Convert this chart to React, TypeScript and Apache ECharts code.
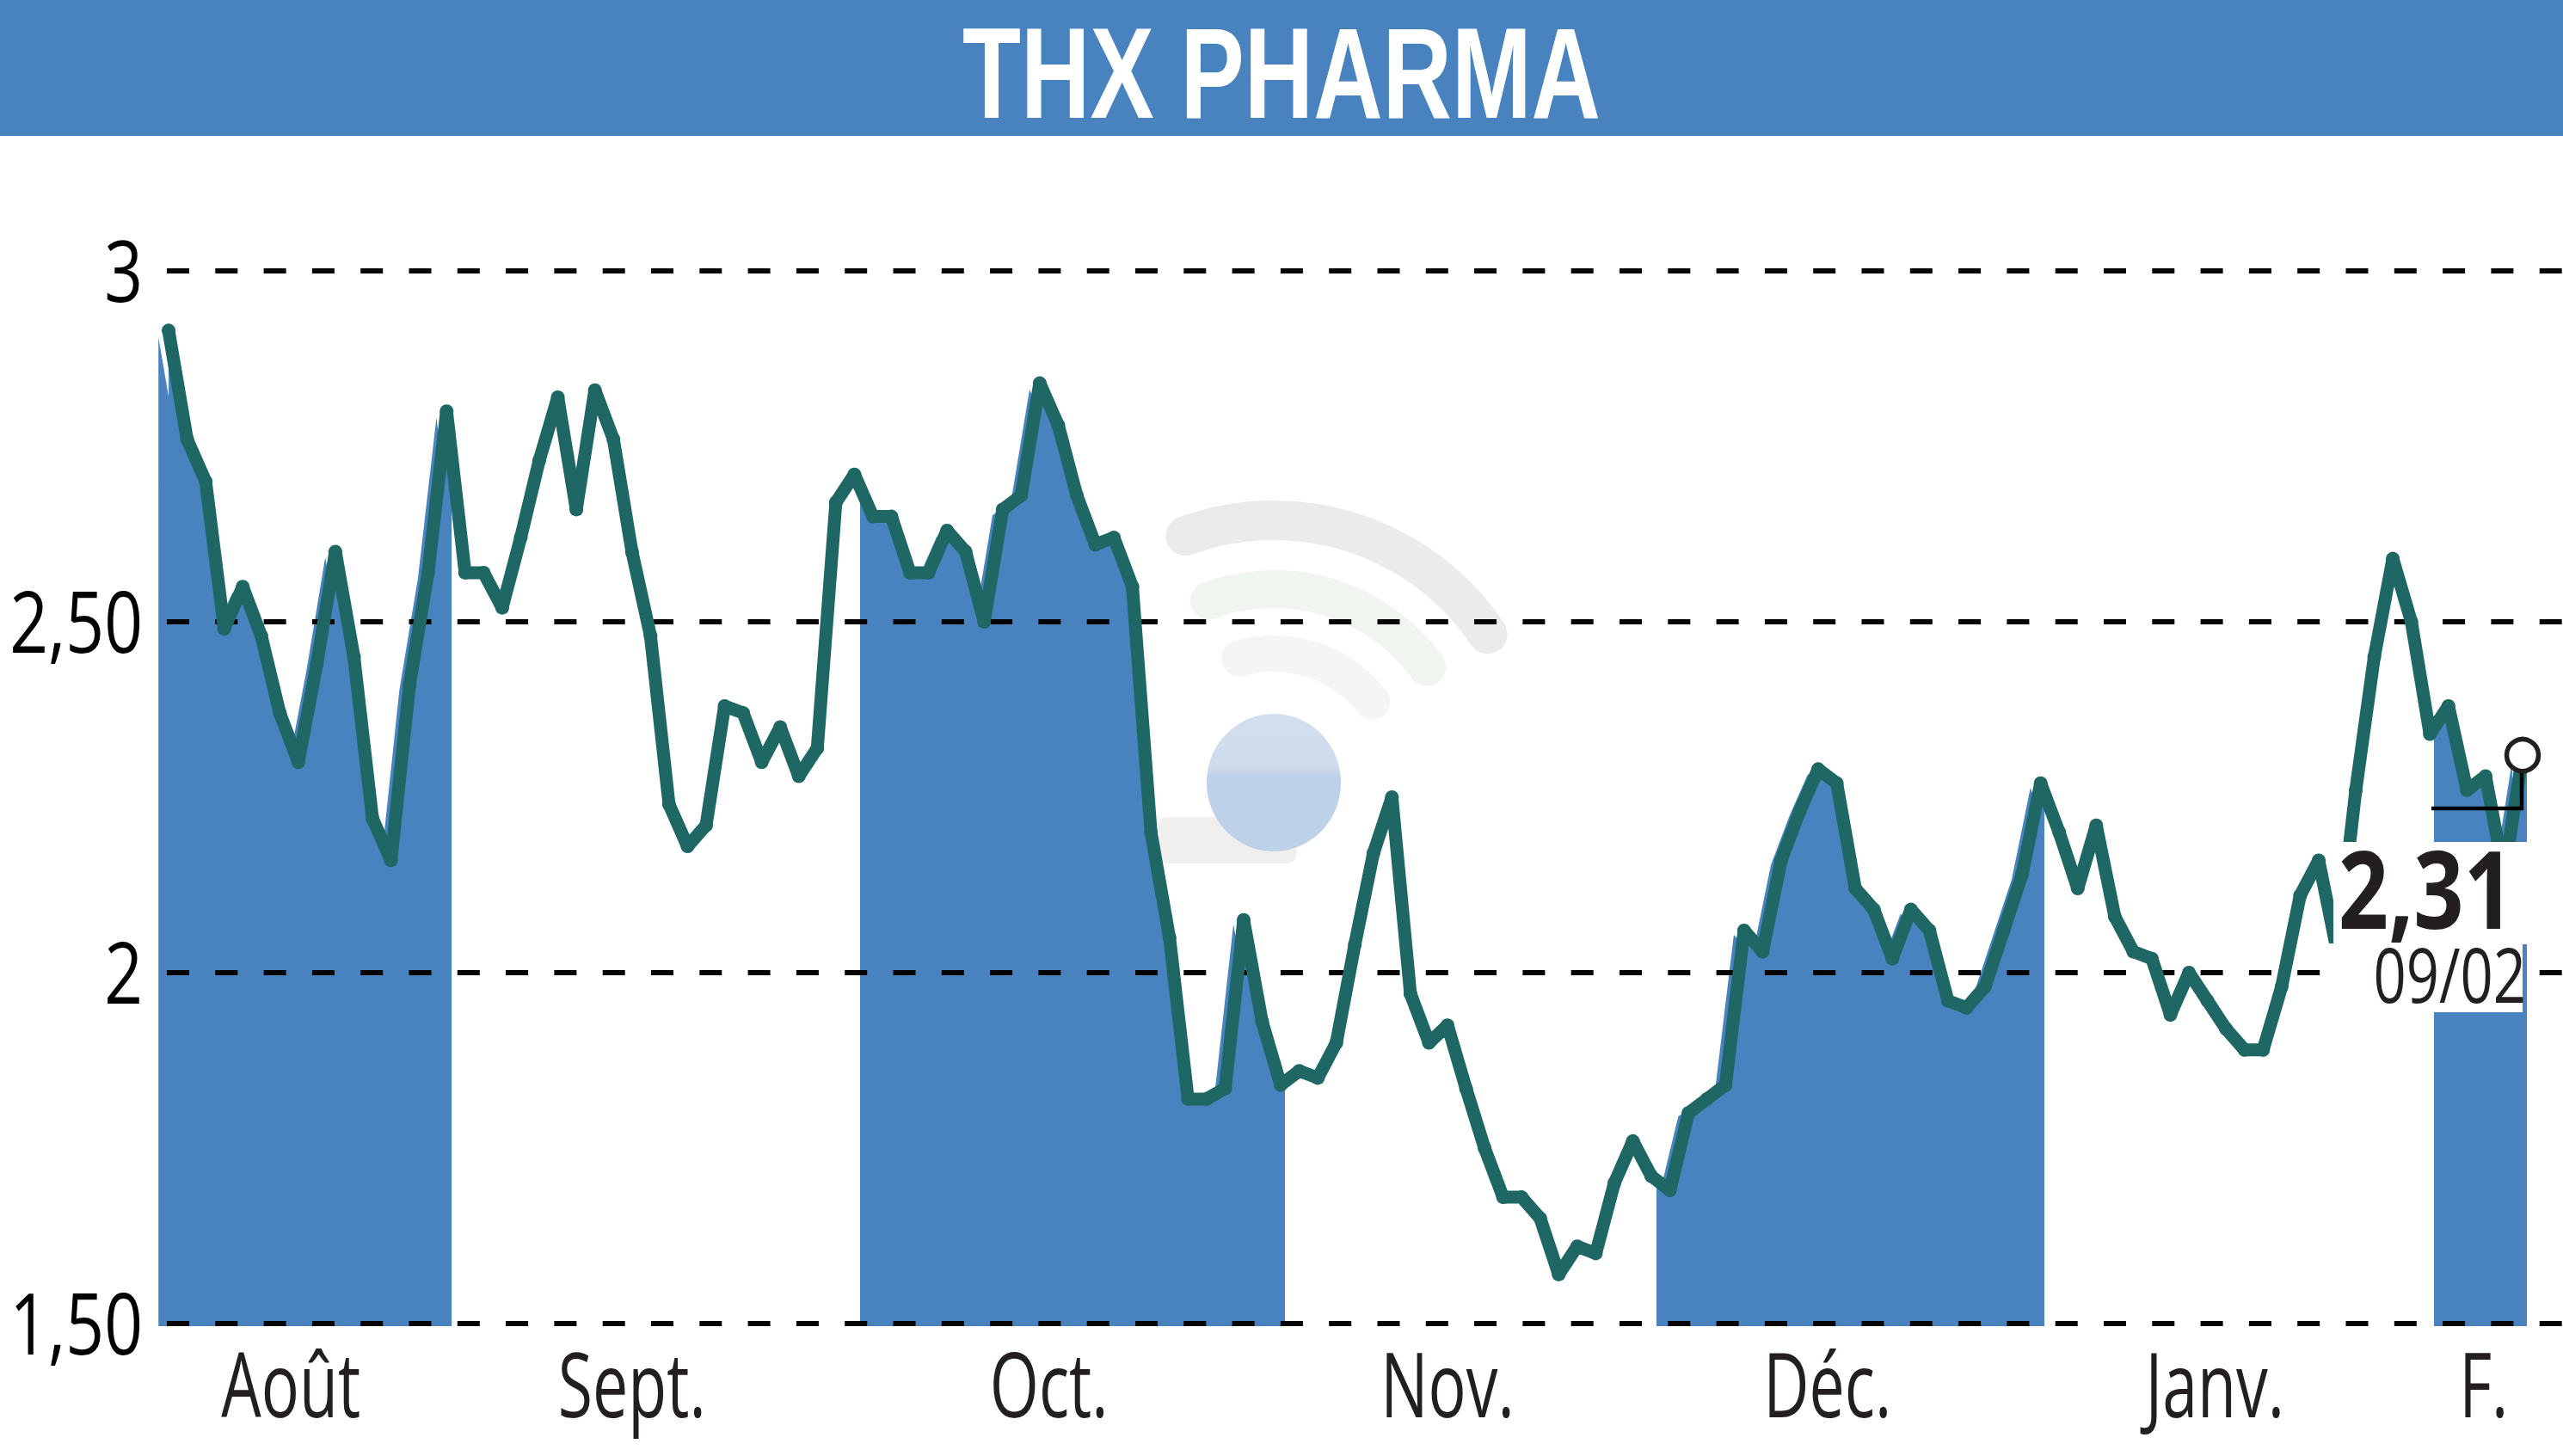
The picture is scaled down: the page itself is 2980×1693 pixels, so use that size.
import React, { useEffect, useRef } from 'react';
import * as echarts from 'echarts';

const closes = [
  2.915, 2.76, 2.7, 2.49, 2.55, 2.48, 2.37, 2.3, 2.44, 2.6,
  2.45, 2.22, 2.16, 2.41, 2.57, 2.8, 2.57, 2.57, 2.52, 2.62,
  2.73, 2.82, 2.66, 2.83, 2.76, 2.6, 2.48, 2.24, 2.18, 2.21,
  2.38, 2.37, 2.3, 2.35, 2.28, 2.32, 2.67, 2.71, 2.65, 2.65,
  2.57, 2.57, 2.63, 2.6, 2.5, 2.66, 2.68, 2.84, 2.78, 2.68,
  2.61, 2.62, 2.55, 2.2, 2.05, 1.82, 1.82, 1.835, 2.075, 1.93,
  1.84, 1.86, 1.85, 1.9, 2.04, 2.17, 2.25, 1.97, 1.9, 1.925,
  1.835, 1.75, 1.68, 1.68, 1.65, 1.57, 1.61, 1.6, 1.7, 1.76,
  1.71, 1.69, 1.8, 1.82, 1.84, 2.06, 2.03, 2.16, 2.23, 2.29,
  2.27, 2.12, 2.09, 2.02, 2.09, 2.06, 1.96, 1.95, 1.98, 2.06,
  2.14, 2.27, 2.2, 2.12, 2.21, 2.08, 2.03, 2.02, 1.94, 2.0,
  1.96, 1.92, 1.89, 1.89, 1.98, 2.11, 2.16, 2.03, 2.26, 2.45,
  2.59, 2.5, 2.34, 2.38, 2.26, 2.28, 2.14, 2.31,
];

// shaded months, as day positions on the x axis
const shadedMonths = [
  [-0.56, 15.29],
  [37.3, 60.24],
  [80.28, 101.22],
  [122.22, 127.24],
];

const monthNames = ['Août', 'Sept.', 'Oct.', 'Nov.', 'Déc.', 'Janv.', 'F.'];
const monthCenters = [6.6, 25, 47.5, 69, 89.5, 110.4, 124.9];

const yTicks = [1.5, 2, 2.5, 3];
const yTickNames = ['1,50', '2', '2,50', '3'];

const title = 'THX PHARMA';
const lastValue = '2,31';
const lastDate = '09/02';

const BLUE = '#4883bf';
const GREEN = '#1f6764';
const INK = '#231f20';
const FONT = '"Open Sans", "Liberation Sans", sans-serif';

// no condensed font is installed, so the texts are squeezed with scaleX
function label(
  text: string,
  x: number,
  baseline: number,
  size: number,
  scaleX: number,
  align: string,
  fill: string,
  weight = 'normal',
) {
  return {
    type: 'text',
    z: 12,
    x,
    y: baseline - size * 0.388,
    scaleX,
    silent: true,
    style: { text, fill, align, verticalAlign: 'middle', font: `${weight} ${size}px ${FONT}` },
  };
}

function watermark() {
  const arc = (r: number, lineWidth: number, start: number, end: number, stroke: string) => ({
    type: 'arc',
    z: 0,
    shape: { cx: 1481, cy: 905, r, startAngle: (start * Math.PI) / 180, endAngle: (end * Math.PI) / 180 },
    style: { fill: 'none', stroke, lineWidth, lineCap: 'round' },
    silent: true,
  });
  return [
    arc(300, 46, 250, 326, '#ebecea'),
    arc(220, 44, 250, 324, '#f1f5f0'),
    arc(145, 42, 254, 322, '#f3f6f4'),
    {
      type: 'rect',
      z: 0,
      shape: { x: 1347, y: 950, width: 160, height: 54, r: 10 },
      style: { fill: '#f0efee' },
      silent: true,
    },
    {
      type: 'ellipse',
      z: 0,
      shape: { cx: 1481, cy: 910, rx: 78, ry: 80 },
      style: {
        fill: new echarts.graphic.LinearGradient(0, 0, 0, 1, [
          { offset: 0, color: '#d3dfef' },
          { offset: 0.4, color: '#cddbec' },
          { offset: 0.45, color: '#bdd2e9' },
          { offset: 1, color: '#bdd2e9' },
        ]),
      },
      silent: true,
    },
  ];
}

export default function App() {
  const chartRef = useRef<HTMLDivElement>(null);

  useEffect(() => {
    if (!chartRef.current) return;
    const chart = echarts.init(chartRef.current, undefined, { renderer: 'svg' });
    const points = closes.map((v, i) => [i, v]);
    const lastIndex = closes.length - 1;
    const fillMin = shadedMonths[0][0];
    const fillMax = shadedMonths[shadedMonths.length - 1][1];
    const fillPoints = [...points, [fillMax, closes[lastIndex]]];
    const fillPointsLeft = points.map(([i, v]) => [i - 0.55, v]);

    chart.setOption({
      animation: false,
      backgroundColor: '#ffffff',
      grid: [
        { left: 194, top: 315, width: 2786, height: 1224 },
        { left: 184, top: 323, width: 2754, height: 1219 },
        { left: 196, top: 315, width: 2737, height: 1224 },
      ],
      xAxis: [
        { gridIndex: 0, type: 'value', show: false, min: 0, max: 1 },
        { gridIndex: 1, type: 'value', show: false, min: fillMin, max: fillMax },
        { gridIndex: 2, type: 'value', show: false, min: 0, max: lastIndex },
      ],
      yAxis: [
        {
          gridIndex: 0,
          type: 'value',
          min: 1.5,
          max: 3,
          interval: 0.5,
          z: 2,
          axisLine: { show: false },
          axisTick: { show: false },
          axisLabel: { show: false },
          splitLine: { lineStyle: { color: '#000000', width: 6, type: [26, 30.3] } },
        },
        { gridIndex: 1, type: 'value', show: false, min: 1.5, max: 3 },
        { gridIndex: 2, type: 'value', show: false, min: 1.5, max: 3 },
      ],
      visualMap: {
        type: 'piecewise',
        show: false,
        seriesIndex: [0, 1],
        dimension: 0,
        pieces: shadedMonths.map(([gte, lte]) => ({ gte, lte, color: BLUE })),
        outOfRange: { color: 'rgba(255,255,255,0)' },
      },
      series: [
        {
          type: 'line',
          name: 'fill',
          xAxisIndex: 1,
          yAxisIndex: 1,
          z: 1,
          data: fillPoints,
          showSymbol: false,
          lineStyle: { width: 0 },
          areaStyle: { opacity: 1 },
        },
        {
          type: 'line',
          name: 'fill left',
          xAxisIndex: 1,
          yAxisIndex: 1,
          z: 1,
          data: fillPointsLeft,
          showSymbol: false,
          lineStyle: { width: 0 },
          areaStyle: { opacity: 1 },
        },
        {
          type: 'line',
          name: 'close',
          xAxisIndex: 2,
          yAxisIndex: 2,
          z: 3,
          clip: false,
          data: points,
          symbol: 'circle',
          symbolSize: 16,
          showAllSymbol: true,
          itemStyle: { color: GREEN },
          lineStyle: { color: GREEN, width: 15 },
        },
        {
          type: 'scatter',
          name: 'last',
          xAxisIndex: 2,
          yAxisIndex: 2,
          z: 20,
          clip: false,
          data: points.slice(-1),
          symbol: 'circle',
          symbolSize: 37,
          itemStyle: { color: '#ffffff', opacity: 1, borderColor: INK, borderWidth: 5.5 },
        },
      ],
    });

    const yLabels = yTicks.map((v, i) =>
      label(yTickNames[i], 166, chart.convertToPixel({ yAxisIndex: 0 }, v) + 36, 98, 0.8, 'right', '#000000'),
    );
    const monthLabels = monthCenters.map((v, i) =>
      label(monthNames[i], chart.convertToPixel({ xAxisIndex: 2 }, v), 1648, 105, 0.7, 'center', INK),
    );

    chart.setOption({
      graphic: [
        { type: 'rect', z: 0, shape: { x: 0, y: 0, width: 2980, height: 158 }, style: { fill: BLUE }, silent: true },
        ...watermark(),
        // white boxes behind the last value and date
        { type: 'rect', z: 10, shape: { x: 2713, y: 979, width: 237, height: 119 }, style: { fill: '#ffffff' }, silent: true },
        { type: 'rect', z: 10, shape: { x: 2700, y: 1097, width: 233, height: 80 }, style: { fill: '#ffffff' }, silent: true },
        {
          type: 'polyline',
          z: 11,
          shape: { points: [[2827, 940], [2932, 940], [2932, 894]] },
          style: { fill: 'none', stroke: '#000000', lineWidth: 4.5 },
          silent: true,
        },
        {
          type: 'text',
          z: 12,
          x: 1490,
          y: 137 - 150 * 0.3465,
          scaleX: 0.742,
          silent: true,
          style: {
            text: title,
            fill: '#ffffff',
            align: 'center',
            verticalAlign: 'middle',
            font: 'bold 150px "Liberation Sans", sans-serif',
          },
        },
        ...yLabels,
        ...monthLabels,
        label(lastValue, 2923, 1080, 126, 0.81, 'right', INK, 'bold'),
        label(lastDate, 2937, 1166, 88, 0.76, 'right', INK),
      ],
    });

    return () => {
      chart.dispose();
    };
  }, []);

  return <div ref={chartRef} style={{ position: 'absolute', left: 0, top: 0, width: 2980, height: 1693 }} />;
}
